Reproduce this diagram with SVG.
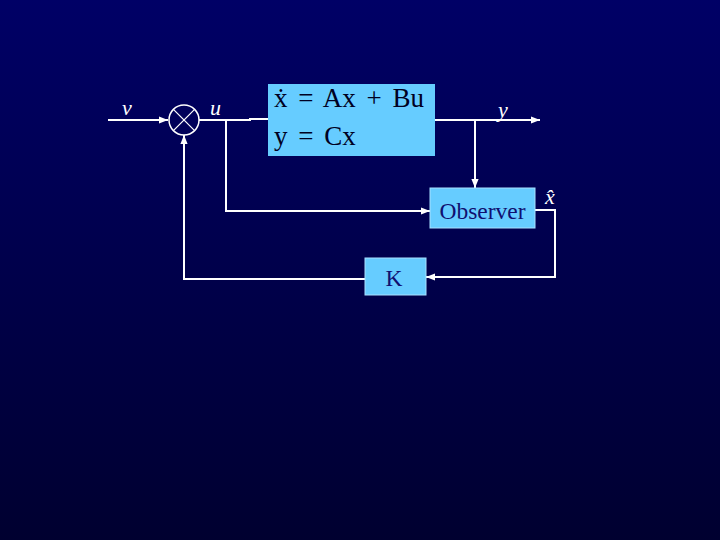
<svg xmlns="http://www.w3.org/2000/svg" width="720" height="540" viewBox="0 0 720 540">
<defs>
<linearGradient id="bg" x1="0" y1="0" x2="0" y2="1">
<stop offset="0" stop-color="#000066"/>
<stop offset="1" stop-color="#000030"/>
</linearGradient>
<marker id="arr" viewBox="0 0 10 10" refX="10" refY="5" markerWidth="9" markerHeight="9" markerUnits="userSpaceOnUse" orient="auto">
<path d="M0,1 L10,5 L0,9 z" fill="#ffffff"/>
</marker>
<style>
.ln{stroke:#ffffff;stroke-width:2;fill:none}
.box{fill:#66ccff;stroke:#a8e0ff;stroke-width:1}
.eq{font-family:"Liberation Serif",serif;font-size:27px;fill:#000022;word-spacing:4px}
.bl{font-family:"Liberation Serif",serif;font-size:23.5px;fill:#101070}
.lab{font-family:"Liberation Serif",serif;font-style:italic;font-size:22px;fill:#ffffff}
</style>
</defs>
<rect width="720" height="540" fill="url(#bg)"/>
<g id="connectors">
<line class="ln" x1="108" y1="120" x2="168" y2="120" marker-end="url(#arr)"/>
<polyline class="ln" points="199,120 250,120 250,119 268,119"/>
<polyline class="ln" points="226,120 226,211 430,211" marker-end="url(#arr)"/>
<line class="ln" x1="435" y1="120" x2="540" y2="120" marker-end="url(#arr)"/>
<line class="ln" x1="475" y1="120" x2="475" y2="188" marker-end="url(#arr)"/>
<polyline class="ln" points="535,210 555,210 555,277 426,277" marker-end="url(#arr)"/>
<polyline class="ln" points="365,279 184,279 184,135" marker-end="url(#arr)"/>
</g>
<g id="sum">
<circle cx="184" cy="120" r="15" fill="none" stroke="#ffffff" stroke-width="1.5"/>
<line x1="173.4" y1="109.4" x2="194.6" y2="130.6" stroke="#ffffff" stroke-width="1.2"/>
<line x1="194.6" y1="109.4" x2="173.4" y2="130.6" stroke="#ffffff" stroke-width="1.2"/>
</g>
<g id="plant">
<rect x="268" y="84" width="167" height="72" fill="#66ccff"/>
<text class="eq" x="274" y="107">ẋ = Ax + Bu</text>
<text class="eq" x="274" y="145">y = Cx</text>
</g>
<g id="observer">
<rect class="box" x="430" y="188" width="105" height="40"/>
<text class="bl" x="482.5" y="219" text-anchor="middle">Observer</text>
</g>
<g id="gain">
<rect class="box" x="365" y="258" width="61" height="37"/>
<text class="bl" x="394" y="286" text-anchor="middle">K</text>
</g>
<g id="labels">
<text class="lab" x="122" y="115">v</text>
<text class="lab" x="210" y="115">u</text>
<text class="lab" x="498" y="117">y</text>
<text class="lab" x="545" y="204">x̂</text>
</g>
</svg>
